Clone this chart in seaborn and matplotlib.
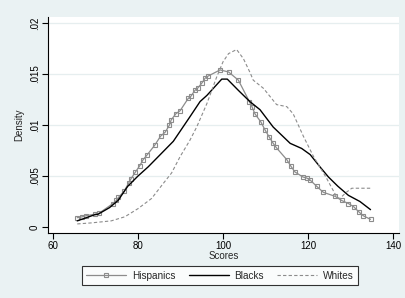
import pandas as pd
import matplotlib
matplotlib.use('Agg')
import matplotlib.pyplot as plt
import seaborn as sns

# values
hisp_x = [65.7, 66.9, 67.7, 69.8, 70.8, 74.1, 74.9, 75.4, 76.7, 77.8, 78.3, 79.4,
          80.4, 81.2, 82.2, 83.9, 85.3, 86.4, 87.4, 87.8, 88.9, 89.9, 91.8, 92.4,
          93.4, 94.0, 95.0, 95.8, 96.5, 99.3, 101.3, 103.6, 106.2, 106.8, 107.5,
          108.9, 109.9, 110.9, 111.8, 112.5, 115.0, 115.9, 116.9, 118.8, 119.7,
          120.5, 122.0, 123.6, 126.4, 127.9, 129.5, 130.7, 131.9, 133.0, 134.7]
hisp_y = [0.00091, 0.0010, 0.0011, 0.00125, 0.00134, 0.0023, 0.0026, 0.0029,
          0.0035, 0.0043, 0.0047, 0.0054, 0.0060, 0.0066, 0.0071, 0.0080, 0.0089,
          0.0093, 0.0100, 0.0105, 0.0111, 0.0114, 0.0126, 0.0128, 0.0134, 0.0136,
          0.0141, 0.0146, 0.0148, 0.0154, 0.0152, 0.0144, 0.0123, 0.0118, 0.0111,
          0.0103, 0.0095, 0.0088, 0.0082, 0.0078, 0.0066, 0.0060, 0.0054, 0.0049,
          0.0048, 0.0046, 0.0040, 0.0034, 0.0030, 0.0026, 0.0023, 0.0020, 0.0015,
          0.0011, 0.00075]

black_x = [65.7, 69.8, 70.6, 73.3, 75.3, 77.6, 80.0, 82.4, 85.0, 88.3, 92.2,
           94.6, 96.2, 99.7, 101.0, 103.6, 106.3, 108.7, 111.8, 115.8, 118.5,
           120.5, 122.8, 124.8, 127.0, 129.5, 132.2, 134.7]
black_y = [0.0006, 0.0012, 0.00125, 0.0019, 0.0026, 0.0040, 0.0050, 0.0059,
           0.0070, 0.0084, 0.0108, 0.0123, 0.0129, 0.0145, 0.0145, 0.0134, 0.0123,
           0.0115, 0.0098, 0.0082, 0.0077, 0.0071, 0.0059, 0.0049, 0.0040, 0.0031,
           0.0025, 0.0017]

white_x = [65.7, 69.0, 73.7, 76.9, 80.0, 83.2, 86.0, 87.9, 89.9, 92.2, 93.8,
           96.2, 98.5, 100.0, 101.3, 103.2, 104.8, 106.4, 107.1, 109.5, 112.6,
           115.0, 116.5, 118.9, 121.3, 124.2, 126.8, 127.5, 129.0, 130.3, 135.0]
white_y = [0.0003, 0.0004, 0.0006, 0.0010, 0.0018, 0.0028, 0.0043, 0.0053,
           0.0069, 0.0085, 0.0098, 0.0121, 0.0147, 0.0162, 0.0170, 0.0174, 0.0165,
           0.0151, 0.0144, 0.0136, 0.0120, 0.0118, 0.0111, 0.0089, 0.0069, 0.0049,
           0.0029, 0.0028, 0.0034, 0.0038, 0.0038]

y_ticks = [0, 0.005, 0.01, 0.015, 0.02]
y_labels = ['0', '.005', '.01', '.015', '.02']
x_ticks = [60, 80, 100, 120, 140]

bg = '#eaf2f3'
sns.set_style('ticks')
plt.rcParams['font.family'] = ['Liberation Sans', 'DejaVu Sans']

fig = plt.figure(figsize=(4.05, 2.98), dpi=100, facecolor=bg)
ax = fig.add_axes([48 / 405, 65 / 298, 351 / 405, 216 / 298])
ax.set_facecolor('white')

hisp = pd.DataFrame({'x': hisp_x, 'y': hisp_y})
black = pd.DataFrame({'x': black_x, 'y': black_y})
white = pd.DataFrame({'x': white_x, 'y': white_y})

sns.lineplot(data=hisp, x='x', y='y', ax=ax, color='#8c8c8c', lw=0.9,
             marker='s', markersize=3.4, markerfacecolor='none',
             markeredgecolor='#8c8c8c', markeredgewidth=0.8, label='Hispanics')
sns.lineplot(data=black, x='x', y='y', ax=ax, color='black', lw=1.0, label='Blacks')
sns.lineplot(data=white, x='x', y='y', ax=ax, color='#8c8c8c', lw=0.8,
             linestyle=(0, (3, 2)), label='Whites')

ax.set_xlim(58.82, 141.4)
ax.set_ylim(-0.00059, 0.02059)
ax.set_xticks(x_ticks)
ax.set_xticklabels([str(t) for t in x_ticks], fontsize=7)
ax.set_yticks(y_ticks)
ax.set_yticklabels(y_labels, fontsize=7, rotation=90, va='center')
for t in y_ticks[1:]:
    ax.axhline(t, color='#e6eeef', lw=0.9, zorder=0)

ax.tick_params(axis='both', direction='out', length=4, width=0.8, pad=2, colors='black')
for s in ['top', 'right']:
    ax.spines[s].set_visible(False)
for s in ['left', 'bottom']:
    ax.spines[s].set_linewidth(0.8)
    ax.spines[s].set_color('black')

ax.set_xlabel('Scores', fontsize=7, labelpad=0)
ax.set_ylabel('Density', fontsize=7, labelpad=4)

leg = ax.legend(loc='upper center', bbox_to_anchor=(0.49, -0.153), ncol=3,
                fontsize=7.2, frameon=True, fancybox=False, borderaxespad=0,
                handlelength=4.0, columnspacing=1.3, handletextpad=0.6,
                borderpad=0.45, numpoints=1)
leg.get_frame().set_edgecolor('black')
leg.get_frame().set_linewidth(0.8)

fig.savefig('out.png', dpi=100, facecolor=bg)
